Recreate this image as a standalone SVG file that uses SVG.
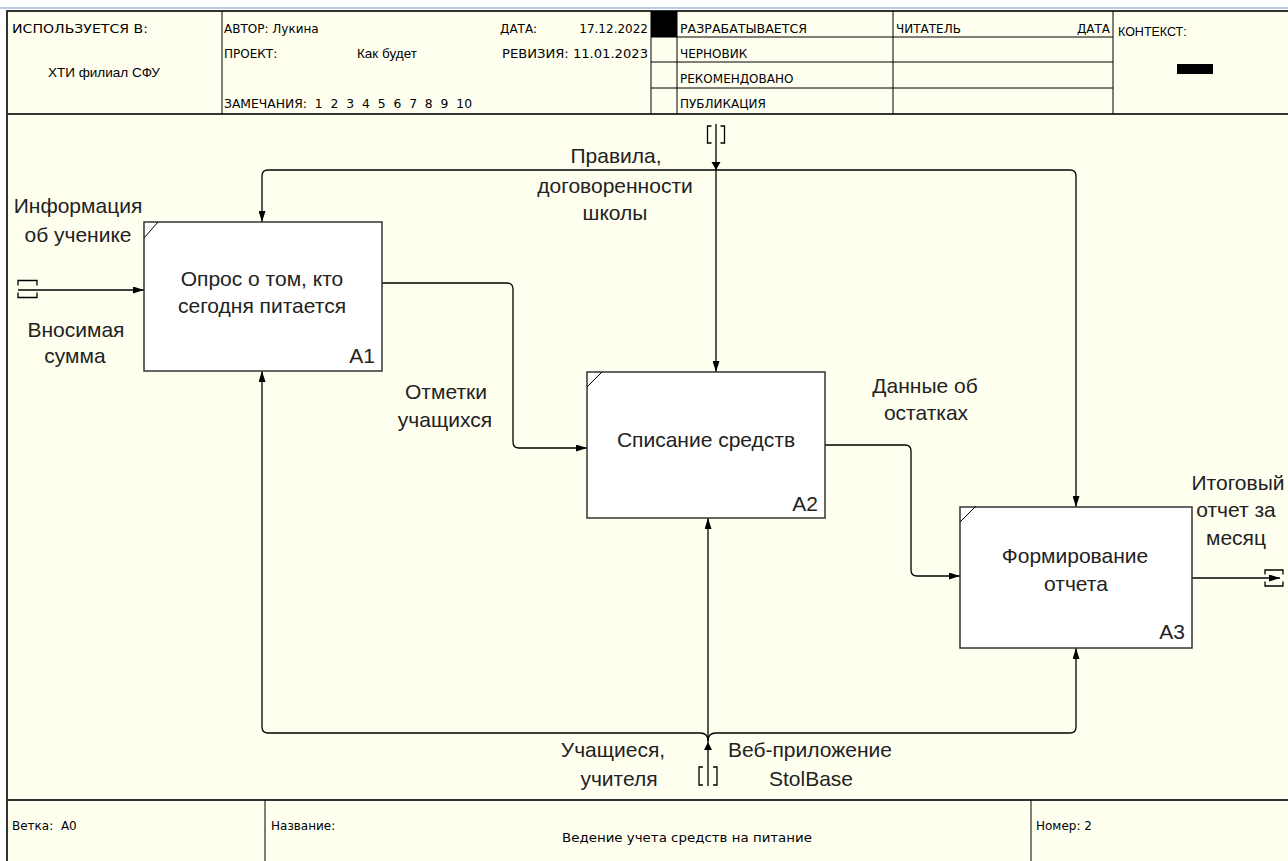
<svg xmlns="http://www.w3.org/2000/svg" width="1288" height="861" viewBox="0 0 1288 861">
<defs>
<style>
.bg{fill:#fffff0}
.frame{fill:none;stroke:#333;stroke-width:2}
.grid{fill:none;stroke:#000;stroke-width:1}
.hd{font-family:"DejaVu Sans",sans-serif;font-size:12px;fill:#000}
.hd2{font-family:"Liberation Sans",Arial,sans-serif;font-size:13.5px;fill:#000}
.lbl{font-family:"Liberation Sans",Arial,sans-serif;font-size:21px;fill:#222;text-anchor:middle}
.num{font-family:"Liberation Sans",Arial,sans-serif;font-size:21px;fill:#222;text-anchor:end}
.box{fill:#fff;stroke:#333;stroke-width:1.5}
.conn{fill:none;stroke:#000;stroke-width:1.3}
.tun{fill:none;stroke:#000;stroke-width:1.3}
</style>
<marker id="arr" viewBox="0 0 11 7" refX="11" refY="3.5" markerWidth="11" markerHeight="7" markerUnits="userSpaceOnUse" orient="auto">
<path d="M0,0 L11,3.5 L0,7 z" fill="#000"/>
</marker>
</defs>
<rect x="0" y="0" width="1288" height="861" fill="#fff"/>
<line x1="0" y1="8" x2="1288" y2="8" stroke="#a9bcd6" stroke-width="1.5"/>
<rect x="7" y="11" width="1290" height="860" class="bg"/>
<rect x="7" y="11" width="1290" height="860" class="frame"/>

<g id="header">
<line x1="7" y1="114" x2="1288" y2="114" class="frame"/>
<line x1="222" y1="11" x2="222" y2="114" class="grid"/>
<line x1="651" y1="11" x2="651" y2="114" class="grid"/>
<line x1="677" y1="11" x2="677" y2="114" class="grid"/>
<line x1="893" y1="11" x2="893" y2="114" class="grid"/>
<line x1="1113" y1="11" x2="1113" y2="114" class="grid"/>
<line x1="651" y1="37" x2="1113" y2="37" class="grid"/>
<line x1="651" y1="62" x2="1113" y2="62" class="grid"/>
<line x1="651" y1="88" x2="1113" y2="88" class="grid"/>
<rect x="651" y="11" width="26" height="26" fill="#000"/>
<rect x="1177" y="64" width="36" height="10" fill="#000"/>
<text class="hd" x="12" y="33" textLength="136" lengthAdjust="spacingAndGlyphs">ИСПОЛЬЗУЕТСЯ В:</text>
<text class="hd2" x="48" y="77">ХТИ филиал СФУ</text>
<text class="hd" x="224" y="33">АВТОР: Лукина</text>
<text class="hd" x="224" y="58">ПРОЕКТ:</text>
<text class="hd2" x="357" y="58">Как будет</text>
<text class="hd" x="224" y="108" xml:space="preserve" textLength="248" lengthAdjust="spacingAndGlyphs">ЗАМЕЧАНИЯ:  1  2  3  4  5  6  7  8  9  10</text>
<text class="hd" x="500" y="33">ДАТА:</text>
<text class="hd" x="648" y="33" text-anchor="end">17.12.2022</text>
<text class="hd" x="502" y="58" textLength="146" lengthAdjust="spacingAndGlyphs">РЕВИЗИЯ: 11.01.2023</text>
<text class="hd" x="680" y="33" textLength="127" lengthAdjust="spacingAndGlyphs">РАЗРАБАТЫВАЕТСЯ</text>
<text class="hd" x="680" y="58">ЧЕРНОВИК</text>
<text class="hd" x="680" y="83">РЕКОМЕНДОВАНО</text>
<text class="hd" x="680" y="108">ПУБЛИКАЦИЯ</text>
<text class="hd" x="896" y="33">ЧИТАТЕЛЬ</text>
<text class="hd" x="1110" y="33" text-anchor="end">ДАТА</text>
<text class="hd2" x="1118" y="36" style="font-size:12.5px">КОНТЕКСТ:</text>
</g>

<g id="footer">
<line x1="7" y1="800" x2="1288" y2="800" class="frame"/>
<line x1="265" y1="800" x2="265" y2="861" class="grid"/>
<line x1="1031" y1="800" x2="1031" y2="861" class="grid"/>
<text class="hd" x="12" y="830" xml:space="preserve">Ветка:  A0</text>
<text class="hd" x="271" y="830">Название:</text>
<text class="hd" x="562" y="842" textLength="250" lengthAdjust="spacingAndGlyphs">Ведение учета средств на питание</text>
<text class="hd" x="1036" y="830">Номер: 2</text>
</g>

<g id="connectors">
<path class="conn" d="M716,124 V372" marker-end="url(#arr)"/>
<path class="conn" d="M716,170 H268 Q262,170 262,176 V222" marker-end="url(#arr)"/>
<path class="conn" d="M716,170 H1070 Q1076,170 1076,176 V507" marker-end="url(#arr)"/>
<polygon points="711.5,162 720.5,162 716,170" fill="#000"/>
<path class="tun" d="M711.5,126 H707.5 V143 H711.5 M720.5,126 H724.5 V143 H720.5"/>
<path class="conn" d="M18,290 H144" marker-end="url(#arr)"/>
<path class="tun" d="M18,285.5 V280.5 H37 V285.5 M18,292.5 V297.5 H37 V292.5"/>
<path class="conn" d="M382,283 H507 Q513,283 513,289 V442 Q513,448 519,448 H587" marker-end="url(#arr)"/>
<path class="conn" d="M825,445 H905 Q911,445 911,451 V570 Q911,576 917,576 H960" marker-end="url(#arr)"/>
<path class="conn" d="M1192,578 H1280" marker-end="url(#arr)"/>
<path class="tun" d="M1265,574.5 V570 H1283 V574.5 M1265,581.5 V586 H1283 V581.5"/>
<path class="conn" d="M708,786 V518" marker-end="url(#arr)"/>
<path class="conn" d="M708,741 Q708,733 700,733 H268 Q262,733 262,727 V371" marker-end="url(#arr)"/>
<path class="conn" d="M708,741 Q708,733 716,733 H1070 Q1076,733 1076,727 V648" marker-end="url(#arr)"/>
<polygon points="704,750 712,750 708,742" fill="#000"/>
<path class="tun" d="M703,767 H699 V785 H703 M713,767 H717 V785 H713"/>
</g>

<g id="labels">
<text class="lbl" x="616" y="163">Правила,</text>
<text class="lbl" x="615" y="193">договоренности</text>
<text class="lbl" x="615" y="220">школы</text>
<text class="lbl" x="78" y="213">Информация</text>
<text class="lbl" x="78" y="242">об ученике</text>
<text class="lbl" x="76" y="337">Вносимая</text>
<text class="lbl" x="75" y="363">сумма</text>
<text class="lbl" x="446" y="399">Отметки</text>
<text class="lbl" x="445" y="427">учащихся</text>
<text class="lbl" x="925" y="393">Данные об</text>
<text class="lbl" x="926" y="420">остатках</text>
<text class="lbl" x="1238" y="490">Итоговый</text>
<text class="lbl" x="1236" y="517">отчет за</text>
<text class="lbl" x="1236" y="545">месяц</text>
<text class="lbl" x="613" y="757">Учащиеся,</text>
<text class="lbl" x="619" y="786">учителя</text>
<text class="lbl" x="810" y="757">Веб-приложение</text>
<text class="lbl" x="811" y="786">StolBase</text>
</g>

<g id="A1">
<rect class="box" x="144" y="222" width="238" height="149"/>
<line class="grid" x1="144" y1="238" x2="158" y2="222"/>
<text class="lbl" x="262" y="286">Опрос о том, кто</text>
<text class="lbl" x="262" y="313">сегодня питается</text>
<text class="num" x="375" y="363">A1</text>
</g>
<g id="A2">
<rect class="box" x="587" y="372" width="238" height="146"/>
<line class="grid" x1="587" y1="387" x2="602" y2="372"/>
<text class="lbl" x="706" y="447">Списание средств</text>
<text class="num" x="818" y="511">A2</text>
</g>
<g id="A3">
<rect class="box" x="960" y="507" width="232" height="141"/>
<line class="grid" x1="960" y1="522" x2="976" y2="506"/>
<text class="lbl" x="1075" y="563">Формирование</text>
<text class="lbl" x="1076" y="591">отчета</text>
<text class="num" x="1185" y="639">A3</text>
</g>
</svg>
